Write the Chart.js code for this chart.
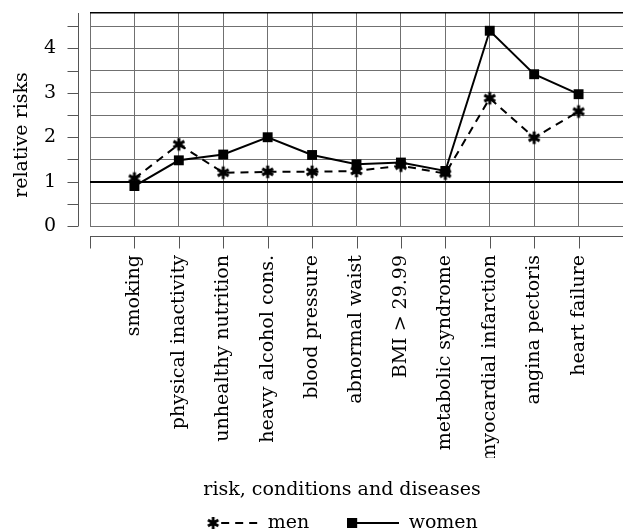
<!DOCTYPE html>
<html>
<head>
<meta charset="utf-8">
<script src="https://cdn.jsdelivr.net/npm/chart.js@4.4.0/dist/chart.umd.min.js"></script>
<style>
html,body{margin:0;padding:0;background:#fff;overflow:hidden;}
#wrap{width:684px;height:532px;position:relative;}
</style>
</head>
<body>
<div id="wrap"><canvas id="c"></canvas></div>
<script>
const categories = ['smoking','physical inactivity','unhealthy nutrition','heavy alcohol cons.','blood pressure','abnormal waist','BMI > 29.99','metabolic syndrome','myocardial infarction','angina pectoris','heart failure'];
const menValues = [1.07, 1.84, 1.20, 1.22, 1.22, 1.24, 1.36, 1.18, 2.88, 1.99, 2.58];
const womenValues = [0.90, 1.48, 1.61, 2.00, 1.60, 1.39, 1.43, 1.24, 4.40, 3.42, 2.97];
const yTickValues = [0, 0.5, 1, 1.5, 2, 2.5, 3, 3.5, 4, 4.5, 4.8];
const yTickLabels = ['0', '', '1', '', '2', '', '3', '', '4', '', ''];
const seriesNames = ['men', 'women'];
const xAxisTitle = 'risk, conditions and diseases';
const yAxisTitle = 'relative risks';

const FONT = "'DejaVu Serif', serif";
const FS = 19;
Chart.defaults.font.family = FONT;
Chart.defaults.font.size = FS;
Chart.defaults.color = '#000';

function drawStar(ctx, cx, cy, r, lw) {
  ctx.save();
  ctx.strokeStyle = '#000';
  ctx.fillStyle = '#000';
  ctx.lineWidth = lw;
  for (let k = 0; k < 3; k++) {
    const a = Math.PI / 2 + k * Math.PI / 3;
    ctx.beginPath();
    ctx.moveTo(cx + r * Math.cos(a), cy + r * Math.sin(a));
    ctx.lineTo(cx - r * Math.cos(a), cy - r * Math.sin(a));
    ctx.stroke();
  }
  ctx.beginPath(); ctx.arc(cx, cy, 3, 0, Math.PI * 2); ctx.fill();
  ctx.restore();
}
function makeCanvas(w, h) {
  const c = document.createElement('canvas');
  c.width = w; c.height = h;
  return c;
}
const starImg = makeCanvas(18, 18);
drawStar(starImg.getContext('2d'), 9, 9, 6.3, 3);

const LW = 52;
const menLegend = makeCanvas(LW, 18);
(function () {
  const g = menLegend.getContext('2d');
  drawStar(g, 7, 9, 6.0, 2.8);
  g.strokeStyle = '#000'; g.lineWidth = 2; g.setLineDash([8, 6]);
  g.beginPath(); g.moveTo(15, 9); g.lineTo(LW, 9); g.stroke();
})();
const womenLegend = makeCanvas(LW, 18);
(function () {
  const g = womenLegend.getContext('2d');
  g.fillStyle = '#000'; g.fillRect(0, 4, 10, 10);
  g.strokeStyle = '#000'; g.lineWidth = 2;
  g.beginPath(); g.moveTo(10, 9); g.lineTo(LW, 9); g.stroke();
})();

const xTickValues = [-1].concat(categories.map((_, i) => i), [categories.length]);

const sepAxes = {
  id: 'sepAxes',
  afterDraw(chart) {
    const {ctx, chartArea: a, scales: {x, y}} = chart;
    ctx.save();
    ctx.strokeStyle = '#555';
    ctx.lineWidth = 1;
    const yx = a.left - 11.5;
    const y0 = y.getPixelForValue(0);
    ctx.beginPath(); ctx.moveTo(yx, a.top); ctx.lineTo(yx, y0); ctx.stroke();
    y.ticks.forEach((t, i) => {
      if (i === y.ticks.length - 1) return;
      const py = Math.round(y.getPixelForValue(t.value)) + 0.5;
      ctx.beginPath(); ctx.moveTo(yx - 11, py); ctx.lineTo(yx, py); ctx.stroke();
    });
    const xy = a.bottom + 10.5;
    ctx.beginPath(); ctx.moveTo(a.left, xy); ctx.lineTo(a.right, xy); ctx.stroke();
    x.ticks.forEach(t => {
      const px = Math.round(x.getPixelForValue(t.value)) + 0.5;
      ctx.beginPath(); ctx.moveTo(px, xy); ctx.lineTo(px, xy + 12); ctx.stroke();
    });
    // y axis title
    ctx.fillStyle = '#000';
    ctx.font = FS + 'px ' + FONT;
    ctx.textAlign = 'center';
    ctx.textBaseline = 'middle';
    ctx.translate(22, 135);
    ctx.rotate(-Math.PI / 2);
    ctx.fillText(yAxisTitle, 0, 0);
    ctx.restore();
  }
};

new Chart(document.getElementById('c'), {
  type: 'line',
  data: {
    datasets: [
      {
        label: seriesNames[0],
        data: categories.map((c, i) => ({x: i, y: menValues[i]})),
        borderColor: '#000', borderWidth: 2, borderDash: [8, 6],
        pointStyle: starImg, pointRadius: 7,
        fill: false, tension: 0
      },
      {
        label: seriesNames[1],
        data: categories.map((c, i) => ({x: i, y: womenValues[i]})),
        borderColor: '#000', borderWidth: 2,
        pointStyle: 'rect', pointRadius: 7, pointBackgroundColor: '#000', pointBorderWidth: 0,
        fill: false, tension: 0
      }
    ]
  },
  options: {
    responsive: true,
    maintainAspectRatio: false,
    animation: false,
    events: [],
    layout: {padding: {top: 13, left: 0, right: 0, bottom: -10.5}},
    scales: {
      x: {
        type: 'linear', min: -1, max: categories.length,
        afterBuildTicks: s => { s.ticks = xTickValues.map(v => ({value: v})); },
        afterFit: s => { s.height = 232; s.paddingLeft = 0; s.paddingRight = 0; },
        ticks: {
          autoSkip: false, minRotation: 90, maxRotation: 90, padding: 29,
          callback: v => (categories[v] !== undefined ? categories[v] : '')
        },
        grid: {color: '#707070', lineWidth: 1, drawTicks: false},
        border: {display: false}
      },
      y: {
        type: 'linear', min: 0, max: 4.8,
        afterBuildTicks: s => { s.ticks = yTickValues.map(v => ({value: v})); },
        afterFit: s => { s.width = 90; s.paddingTop = 0; s.paddingBottom = 0; },
        ticks: {autoSkip: false, padding: 34, callback: (v, i) => yTickLabels[i]},
        grid: {
          drawTicks: false,
          color: c => (c.tick && (c.tick.value === 1 || c.tick.value === 4.8)) ? '#000' : '#707070',
          lineWidth: c => (c.tick && c.tick.value === 1) ? 2 : ((c.tick && c.tick.value === 4.8) ? 1.5 : 1)
        },
        border: {display: false}
      },
      pad: {
        type: 'linear', position: 'right', display: true,
        afterFit: s => { s.width = 61; s.paddingTop = 0; s.paddingBottom = 0; },
        ticks: {display: false},
        grid: {display: false, drawOnChartArea: false},
        border: {display: false}
      }
    },
    plugins: {
      tooltip: {enabled: false},
      title: {
        display: true, position: 'bottom', text: xAxisTitle, weight: 500,
        font: {size: FS, weight: 'normal'}, color: '#000',
        padding: {top: 20.6, bottom: -25.9}
      },
      legend: {
        display: true, position: 'bottom',
        labels: {
          usePointStyle: true, pointStyleWidth: LW, padding: 38, color: '#000',
          font: {size: FS},
          generateLabels: () => [
            {text: seriesNames[0], pointStyle: menLegend, fillStyle: '#000', strokeStyle: '#000', lineWidth: 0, hidden: false, datasetIndex: 0, fontColor: '#000'},
            {text: seriesNames[1], pointStyle: womenLegend, fillStyle: '#000', strokeStyle: '#000', lineWidth: 0, hidden: false, datasetIndex: 1, fontColor: '#000'}
          ]
        }
      }
    }
  },
  plugins: [sepAxes]
});
</script>
</body>
</html>
